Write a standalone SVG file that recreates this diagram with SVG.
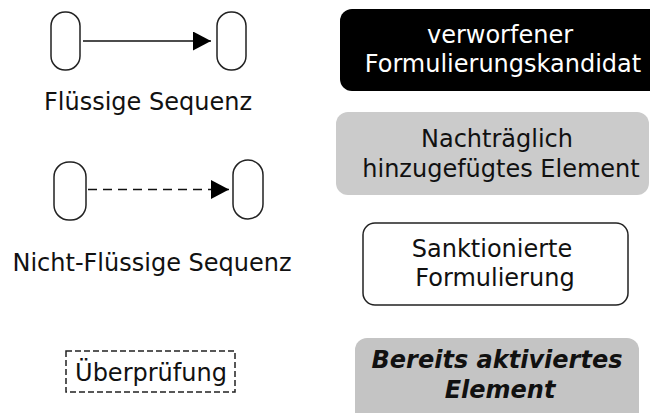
<svg xmlns="http://www.w3.org/2000/svg" width="650" height="413" viewBox="0 0 650 413">
<style>
text{font-family:"DejaVu Sans","Liberation Sans",sans-serif;font-size:24px;text-anchor:middle;fill:#111}
.pill{fill:#fff;stroke:#222;stroke-width:1.5}
.edge{stroke:#111;stroke-width:1.5;fill:none}
</style>
<defs>
<marker id="arr" markerWidth="18" markerHeight="19" refX="18" refY="9.5" orient="auto" markerUnits="userSpaceOnUse">
<path d="M0,0 L18,9.5 L0,19 Z" fill="#000"/>
</marker>
</defs>
<rect width="650" height="413" fill="#fff"/>
<g id="legend-fluent">
<rect id="n1a" class="pill" x="51" y="12" width="29" height="58" rx="14"/>
<rect id="n1b" class="pill" x="217" y="12" width="29" height="58" rx="14"/>
<text x="148" y="110">Flüssige Sequenz</text>
</g>
<g id="legend-nonfluent">
<rect id="n2a" class="pill" x="54" y="162" width="32" height="58" rx="15"/>
<rect id="n2b" class="pill" x="233" y="160" width="30" height="59" rx="15"/>
<text x="152" y="271">Nicht-Flüssige Sequenz</text>
</g>
<g id="connectors">
<line class="edge" x1="83" y1="41" x2="211" y2="41" marker-end="url(#arr)"/>
<line class="edge" x1="88" y1="189.5" x2="229" y2="189.5" stroke-dasharray="9 6" marker-end="url(#arr)"/>
</g>
<g id="review">
<rect x="66" y="351" width="169" height="41" fill="none" stroke="#222" stroke-width="1.5" stroke-dasharray="6 3"/>
<text x="151" y="381">Überprüfung</text>
</g>
<g id="rejected">
<rect x="340" y="9" width="322" height="82" rx="12" fill="#000"/>
<text x="500" y="43" style="fill:#fff">verworfener</text>
<text x="503" y="72" style="fill:#fff">Formulierungskandidat</text>
</g>
<g id="added">
<rect x="336" y="112" width="313" height="83" rx="12" fill="#cbcbcb"/>
<text x="497" y="147">Nachträglich</text>
<text x="501" y="177">hinzugefügtes Element</text>
</g>
<g id="sanctioned">
<rect x="363" y="223" width="265" height="82" rx="12" fill="#fff" stroke="#222" stroke-width="1.5"/>
<text x="492" y="257">Sanktionierte</text>
<text x="495" y="286">Formulierung</text>
</g>
<g id="activated">
<rect x="355" y="338" width="284" height="90" rx="12" fill="#c4c4c4"/>
<text x="497" y="368" style="font-weight:bold;font-style:italic">Bereits aktiviertes</text>
<text x="500" y="398" style="font-weight:bold;font-style:italic">Element</text>
</g>
</svg>
